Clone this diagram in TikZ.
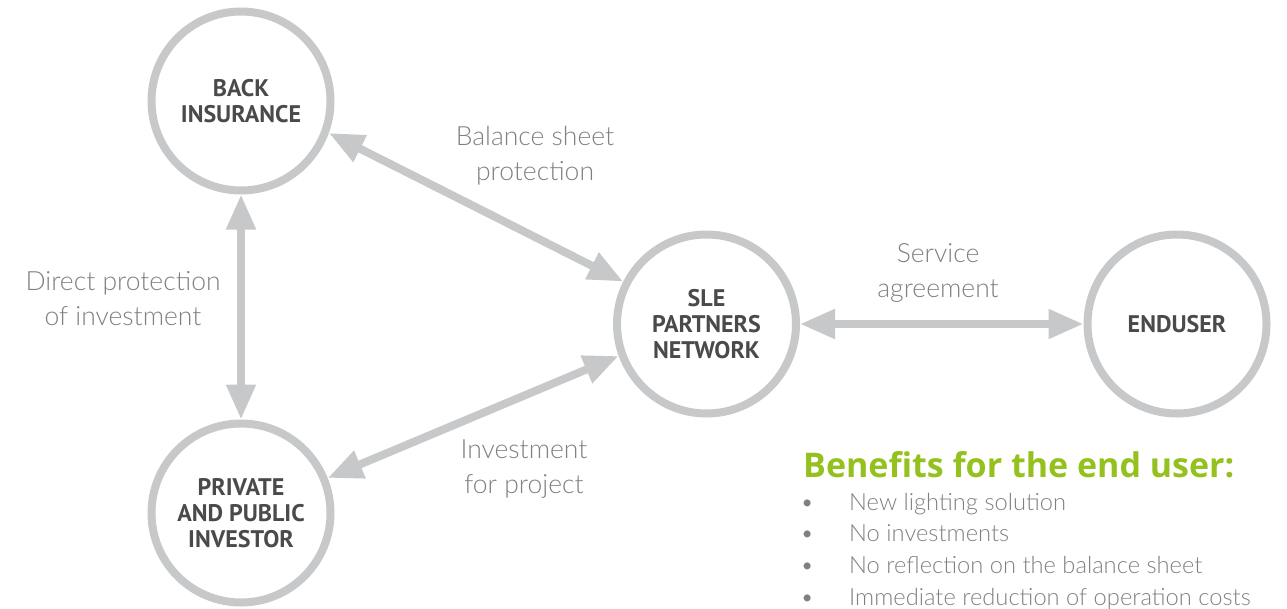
\documentclass[tikz,border=0pt]{standalone}
\usepackage{fontspec}
\setmainfont{Lato}
\newfontfamily\lightfont{Lato Light}
\newfontfamily\ptsans{PT Sans}
\newfontfamily\opensans{Open Sans}
\usetikzlibrary{arrows.meta}
\definecolor{ring}{RGB}{199,200,202}
\definecolor{lbl}{RGB}{128,128,128}
\definecolor{dark}{RGB}{74,74,74}
\definecolor{grn}{RGB}{149,193,31}
\tikzset{
  party/.style={circle, draw=ring, line width=8pt, minimum size=179pt, inner sep=0pt,
    align=center, text=dark, font=\ptsans\bfseries\fontsize{24}{26}\selectfont},
  link/.style={draw=ring, line width=8pt,
    {Triangle[width=28pt,length=35pt]}-{Triangle[width=28pt,length=35pt]}},
  note/.style={text=lbl, align=center, inner sep=0pt,
    font=\lightfont\fontsize{26.5}{35}\selectfont},
  title/.style={text=grn, inner sep=0pt, anchor=base west,
    font=\opensans\bfseries\fontsize{34}{38}\selectfont},
  item/.style={text=lbl, inner sep=0pt, anchor=base west,
    font=\lightfont\fontsize{23.7}{28}\selectfont}
}
\begin{document}
\begin{tikzpicture}[x=1pt,y=-1pt]
\useasboundingbox (0,0) rectangle (1287,608);
\node[party] (back) at (241,101) {BACK\\INSURANCE};
\node[party] (priv) at (241,513) {PRIVATE\\AND PUBLIC\\INVESTOR};
\node[party] (sle)  at (706.5,324) {SLE\\PARTNERS\\NETWORK};
\node[party] (end)  at (1177,324) {ENDUSER};

\draw[link] (back.south) -- (priv.north);
\draw[link] (back.-20) -- (sle.153);
\draw[link] (priv.22) -- (sle.200);
\draw[link] (sle.east) -- (end.west);

\node[note] (nbal) at (535,155.5) {Balance sheet\\protection};
\node[note] (ndir) at (123,298.5) {Direct protection\\of investment};
\node[note] (nser) at (938,272.5) {Service\\agreement};
\node[note] (ninv) at (524,469.5) {Investment\\for project};

\node[title] (ben) at (803,477) {Benefits for the end user:};
\foreach \t [count=\i] in {New lighting solution, No investments, No reflection on the balance sheet, Immediate reduction of operation costs}{
  \pgfmathsetmacro{\yy}{510+31.7*(\i-1)}
  \node[item] (b\i) at (807,\yy) {\makebox[0pt][c]{\textbullet}\hspace{42pt}\t};
}
\end{tikzpicture}
\end{document}
